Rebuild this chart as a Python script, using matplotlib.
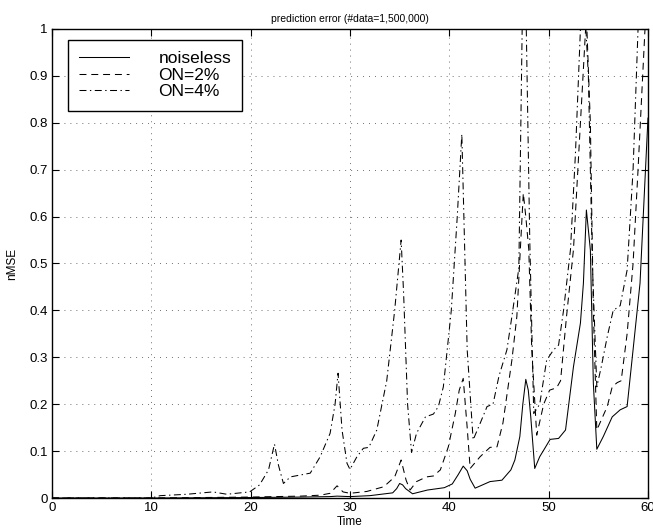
import matplotlib
matplotlib.use("Agg")
import matplotlib.pyplot as plt

plt.rcParams['font.family'] = ['Liberation Sans', 'DejaVu Sans']
plt.rcParams['lines.scale_dashes'] = False

# values (time, nMSE)
t_clean = [0, 10, 20, 25, 28, 28.7, 30, 32, 34.3, 34.7, 35.0, 35.3, 35.6, 36.3, 37.8, 39.5, 40.3,
           40.9, 41.4, 41.8, 42.1, 42.6, 44.1, 45.3, 46.2, 46.6, 47.1, 47.4, 47.7, 47.95, 48.2,
           48.6, 49.1, 49.5, 50.15, 51.0, 51.7, 52.5, 53.2, 53.5, 53.8, 54.2, 54.5, 54.85, 55.5,
           56.4, 57.2, 57.9, 58.5, 59.2, 60]
y_clean = [0, 0, 0.001, 0.002, 0.003, 0.004, 0.003, 0.005, 0.011, 0.02, 0.031, 0.028, 0.02, 0.009,
           0.017, 0.022, 0.03, 0.05, 0.068, 0.058, 0.04, 0.021, 0.035, 0.038, 0.06, 0.081, 0.131,
           0.2, 0.253, 0.23, 0.173, 0.063, 0.088, 0.102, 0.125, 0.127, 0.145, 0.28, 0.373, 0.458,
           0.614, 0.529, 0.245, 0.104, 0.131, 0.173, 0.188, 0.195, 0.316, 0.458, 0.81]

t_on2 = [0, 10, 20, 25, 27, 28.0, 28.7, 29.3, 30, 31.7, 33.4, 34.5, 35.15, 35.65, 36.05, 36.7,
         37.7, 38.4, 39.1, 39.9, 40.6, 41.0, 41.4, 41.8, 42.1, 43.1, 44.1, 44.8, 45.4, 46.3, 46.8,
         47.2, 47.45, 47.7, 48.0, 48.3, 48.8, 49.5, 50.1, 50.8, 51.2, 51.8, 52.5, 53.2, 53.8, 54.2,
         54.5, 54.85, 55.9, 56.4, 56.9, 57.3, 57.9, 58.5, 59.0, 59.7, 60]
y_on2 = [0, 0, 0.002, 0.004, 0.006, 0.01, 0.026, 0.013, 0.010, 0.014, 0.024, 0.045, 0.081, 0.038,
         0.017, 0.035, 0.045, 0.047, 0.06, 0.109, 0.18, 0.23, 0.255, 0.15, 0.063, 0.088, 0.108,
         0.109, 0.16, 0.294, 0.387, 0.55, 0.65, 0.6, 0.53, 0.316, 0.134, 0.2, 0.23, 0.235, 0.25,
         0.387, 0.53, 0.8, 1.03, 0.8, 0.4, 0.145, 0.195, 0.237, 0.246, 0.25, 0.35, 0.50, 0.7, 1.0,
         1.1]

t_on4 = [0, 10, 10.9, 13.6, 16.2, 17.6, 19.9, 20.9, 21.8, 22.4, 22.8, 23.3, 24.0, 26.0, 27.0,
         28.0, 28.5, 28.8, 29.2, 29.7, 30.0, 30.7, 31.35, 31.9, 32.7, 33.7, 34.5, 35.15, 35.4,
         35.8, 36.2, 36.7, 37.6, 38.4, 38.9, 39.4, 40.2, 40.8, 41.26, 41.8, 42.4, 43.1, 43.8, 44.4,
         45.0, 45.8, 46.3, 47.0, 47.4, 47.75, 48.1, 48.5, 49.1, 49.8, 50.5, 51.0, 51.5, 52.2, 52.7,
         53.2, 53.5, 54.0, 54.4, 54.85, 55.3, 55.9, 56.5, 57.2, 57.9, 58.5, 59.0, 60]
y_on4 = [0, 0, 0.005, 0.008, 0.013, 0.008, 0.013, 0.028, 0.06, 0.115, 0.07, 0.031, 0.045, 0.053,
         0.088, 0.138, 0.2, 0.266, 0.145, 0.074, 0.061, 0.088, 0.106, 0.108, 0.145, 0.25, 0.4,
         0.55, 0.436, 0.2, 0.097, 0.138, 0.173, 0.179, 0.195, 0.237, 0.4, 0.6, 0.776, 0.316, 0.124,
         0.159, 0.195, 0.2, 0.26, 0.316, 0.387, 0.49, 1.1, 1.0, 0.55, 0.18, 0.2, 0.294, 0.316,
         0.326, 0.40, 0.53, 0.735, 1.0, 1.1, 0.9, 0.5, 0.237, 0.28, 0.344, 0.40, 0.41, 0.486, 0.7,
         1.0, 1.3]

fig = plt.figure(figsize=(6.53, 5.32), dpi=100)
ax = fig.add_axes([0.0796, 0.0639, 0.9127, 0.8816])

ax.plot(t_clean, y_clean, color='black', lw=0.75, label='noiseless')
ax.plot(t_on2, y_on2, color='black', lw=0.75, dashes=(5, 3.5), label='ON=2%')
ax.plot(t_on4, y_on4, color='black', lw=0.75, dashes=(5, 2.5, 1, 2.5), label='ON=4%')

ax.set_xlim(0, 60)
ax.set_ylim(0, 1)
ax.set_xticks([0, 10, 20, 30, 40, 50, 60])
ax.set_yticks([0, 0.1, 0.2, 0.3, 0.4, 0.5, 0.6, 0.7, 0.8, 0.9, 1])
ax.set_yticklabels(['0', '0.1', '0.2', '0.3', '0.4', '0.5', '0.6', '0.7', '0.8', '0.9', '1'])
ax.tick_params(direction='in', length=5, width=0.8, top=True, right=True, labelsize=9.5, pad=3)
ax.grid(True, color='0.35', lw=0.6, linestyle=(0, (0.7, 3.6)))
for s in ax.spines.values():
    s.set_linewidth(1.0)

ax.set_title('prediction error (#data=1,500,000)', fontsize=7.5, pad=5)
ax.set_xlabel('Time', fontsize=8.5, labelpad=1)
ax.set_ylabel('nMSE', fontsize=8.5, labelpad=8)

leg = ax.legend(loc='upper left', bbox_to_anchor=(0.027, 0.977), borderaxespad=0,
                fontsize=12.5, fancybox=False, edgecolor='black', framealpha=1,
                handlelength=2.85, handletextpad=1.7, labelspacing=0.08, borderpad=0.65)
leg.get_frame().set_linewidth(1.0)

plt.savefig('out.png', dpi=100)
